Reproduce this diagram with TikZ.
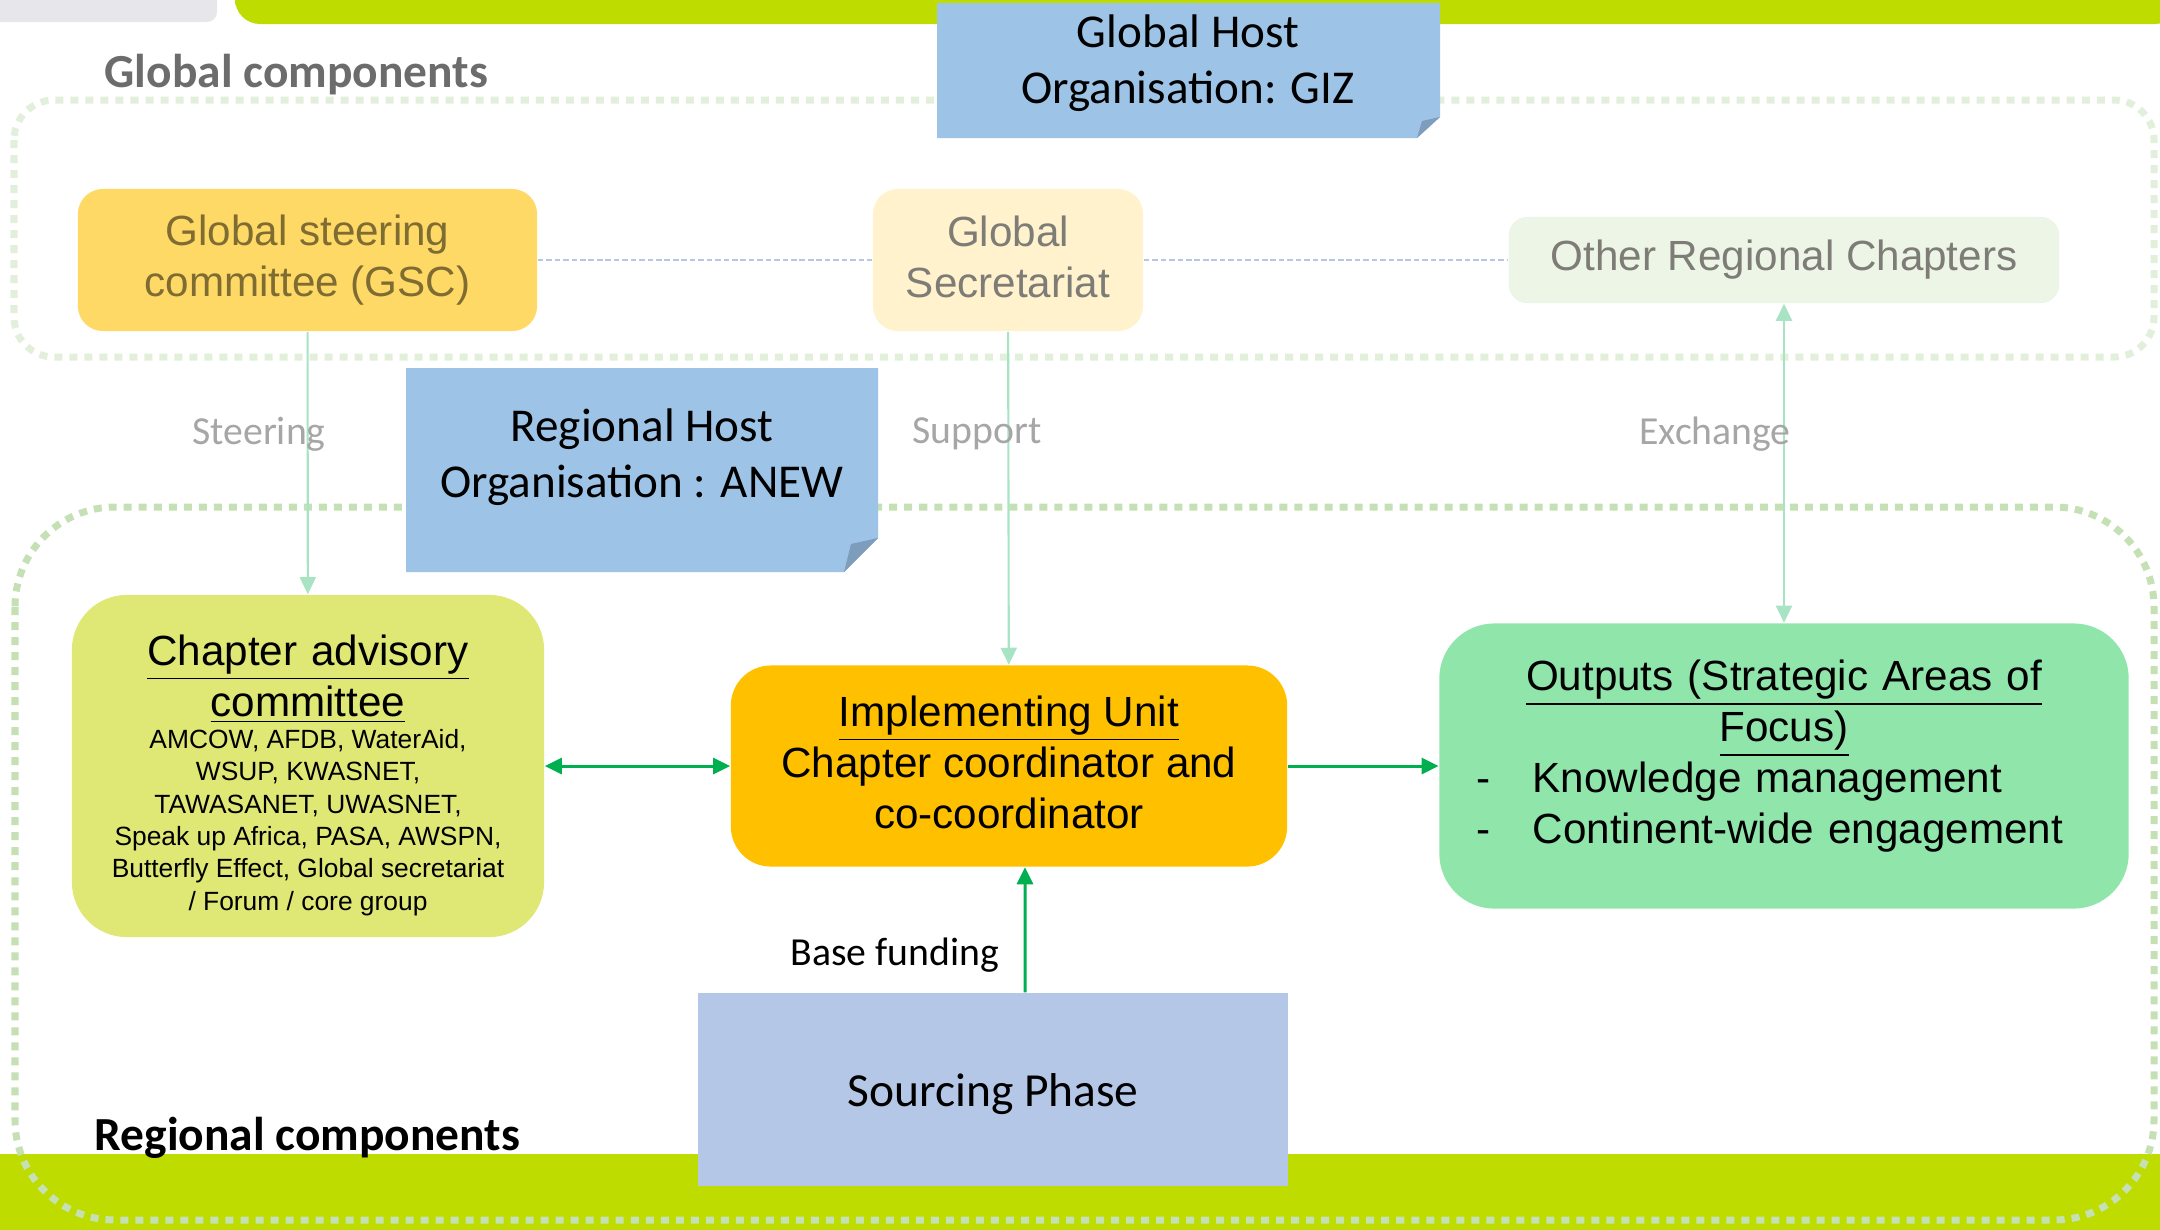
\documentclass[tikz,border=0pt]{standalone}
\usepackage{fontspec}
\setmainfont{Carlito}
\newfontfamily\arialfont{Liberation Sans}
\usetikzlibrary{arrows.meta}
\definecolor{limebar}{RGB}{190,220,0}
\definecolor{greybar}{RGB}{231,230,235}
\definecolor{hostblue}{RGB}{157,195,230}
\definecolor{foldblue}{RGB}{126,156,187}
\definecolor{gscyellow}{RGB}{255,217,102}
\definecolor{secyellow}{RGB}{255,242,204}
\definecolor{othergreen}{RGB}{237,245,231}
\definecolor{advisory}{RGB}{223,231,117}
\definecolor{implorange}{RGB}{255,192,0}
\definecolor{outgreen}{RGB}{143,229,170}
\definecolor{sourceblue}{RGB}{180,199,231}
\definecolor{dotpale}{RGB}{226,239,218}
\definecolor{dotgreen}{RGB}{197,224,180}
\definecolor{mint}{RGB}{168,228,196}
\definecolor{arrowgreen}{RGB}{0,176,80}
\definecolor{olivetext}{RGB}{127,108,50}
\definecolor{greytext}{RGB}{125,124,118}
\definecolor{labelgrey}{RGB}{166,166,166}
\definecolor{labeldark}{RGB}{108,108,108}

\begin{document}
\begin{tikzpicture}[x=0.01cm,y=-0.01cm,>={Triangle[length=0.17cm,width=0.16cm]},
  boxtext/.style={inner sep=0pt,align=center,font=\arialfont\fontsize{12pt}{14.5pt}\selectfont},
  rbox/.style={boxtext,rounded corners=#1},
  hostbox/.style={inner sep=0pt,align=center,font=\fontsize{13.4pt}{16pt}\selectfont},
  partlabel/.style={inner sep=0pt,anchor=base west,font=\bfseries\fontsize{13.5pt}{16pt}\selectfont},
  dotframe/.style={line width=0.07cm,dash pattern=on 0.08cm off 0.07cm},
  soft/.style={draw=mint,line width=0.6pt},
  firm/.style={draw=arrowgreen,line width=0.85pt},
  linkline/.style={draw=sourceblue,line width=0.75pt,dash pattern=on 1.6pt off 0.8pt},
  flowlabel/.style={font=\fontsize{11.3pt}{13pt}\selectfont}]
\useasboundingbox (0,0) rectangle (2160,1229);
\fill[greybar,rounded corners=0.1cm] (-20,-20) rectangle (217,22);
\fill[limebar,rounded corners=0.25cm] (235,-20) rectangle (2180,24);
\fill[limebar] (-10,1154) rectangle (2170,1240);
\draw[dotframe,dotpale,rounded corners=0.4cm] (14,100) rectangle (2154,357);
\draw[dotframe,dotgreen,rounded corners=1cm] (15,507) rectangle (2154,1220);
\node[partlabel,text=labeldark] (globlabel) at (104,87) {Global components};
\node[partlabel] (reglabel) at (94,1150) {Regional components};

\fill[hostblue] (937,3) -- (1440,3) -- (1440,117) -- (1417,138) -- (937,138) -- cycle;
\fill[foldblue] (1440,117) -- (1422,121) -- (1417,138) -- cycle;
\node[hostbox] (giz) at (1188,63) {Global Host\\Organisation: GIZ};
\fill[hostblue] (406,368) -- (878,368) -- (878,538) -- (844,572) -- (406,572) -- cycle;
\fill[foldblue] (878,538) -- (851,544) -- (844,572) -- cycle;
\node[hostbox] (anew) at (642,457) {Regional Host\\Organisation : ANEW};

\node[rbox=0.25cm,fill=gscyellow,text=olivetext,minimum width=4.59cm,minimum height=1.42cm] (gsc) at (307.5,260) {Global steering\\committee (GSC)};
\node[rbox=0.25cm,fill=secyellow,minimum width=2.7cm,minimum height=1.42cm] (sec) at (1008,260) {};
\node[boxtext,text=greytext] (sectext) at ([yshift=0.03cm]sec.center) {Global\\Secretariat};
\node[rbox=0.18cm,fill=othergreen,text=greytext,minimum width=5.5cm,minimum height=0.86cm] (other) at (1784,260) {Other Regional Chapters};
\draw[linkline] (gsc) -- (sec);
\draw[linkline] (sec) -- (other);

\node[rbox=0.55cm,fill=advisory,minimum width=4.72cm,minimum height=3.42cm] (cac) at (308,766) {};
\node[boxtext,text width=4.6cm] (cactext) at ([yshift=-0.09cm]cac.center) {\centering\underline{Chapter advisory}\\\underline{committee}\par
  {\fontsize{7.5pt}{9.2pt}\selectfont\spaceskip=0pt\xspaceskip=0pt AMCOW, AFDB, WaterAid,\\WSUP, KWASNET,\\TAWASANET, UWASNET,\\Speak up Africa, PASA, AWSPN,\\Butterfly Effect, Global secretariat\\/ Forum / core group\par}};
\node[rbox=0.4cm,fill=implorange,minimum width=5.56cm,minimum height=2.01cm] (impl) at (1009,766) {};
\node[boxtext] (impltext) at ([yshift=0.04cm]impl.center) {\underline{Implementing Unit}\\Chapter coordinator and\\co-coordinator};
\node[rbox=0.55cm,fill=outgreen,minimum width=6.89cm,minimum height=2.85cm] (outputs) at (1784,766) {};
\node[boxtext,text width=6.14cm,align=left] (outtext) at ([yshift=0.1cm]outputs.center) {{\centering\underline{Outputs (Strategic Areas of}\\\underline{Focus)}\par}
  \raggedright\makebox[0.56cm][l]{-}Knowledge management\\\makebox[0.56cm][l]{-}Continent-wide engagement};
\node[boxtext,fill=sourceblue,minimum width=5.9cm,minimum height=1.93cm] (source) at (993,1089.5) {};
\node[font=\fontsize{13.5pt}{16pt}\selectfont,inner sep=0pt] (sourcetext) at ([yshift=-0.05cm]source.center) {Sourcing Phase};

\draw[soft,->] (gsc) -- (cac);
\draw[soft,->] (sec) -- (impl);
\draw[soft,<->] (other) -- (outputs);
\draw[firm,<->] (cac) -- (impl);
\draw[firm,->] (impl) -- (outputs);
\draw[firm,->] ([xshift=0.32cm]source.north) -- ([xshift=0.16cm]impl.south);
\node[flowlabel,text=labelgrey] (steerlabel) at (259,434) {Steering};
\node[flowlabel,text=labelgrey] (supportlabel) at (977,434) {Support};
\node[flowlabel,text=labelgrey] (exchangelabel) at (1715,434) {Exchange};
\node[flowlabel] (fundlabel) at (895,955) {Base funding};
\end{tikzpicture}
\end{document}
